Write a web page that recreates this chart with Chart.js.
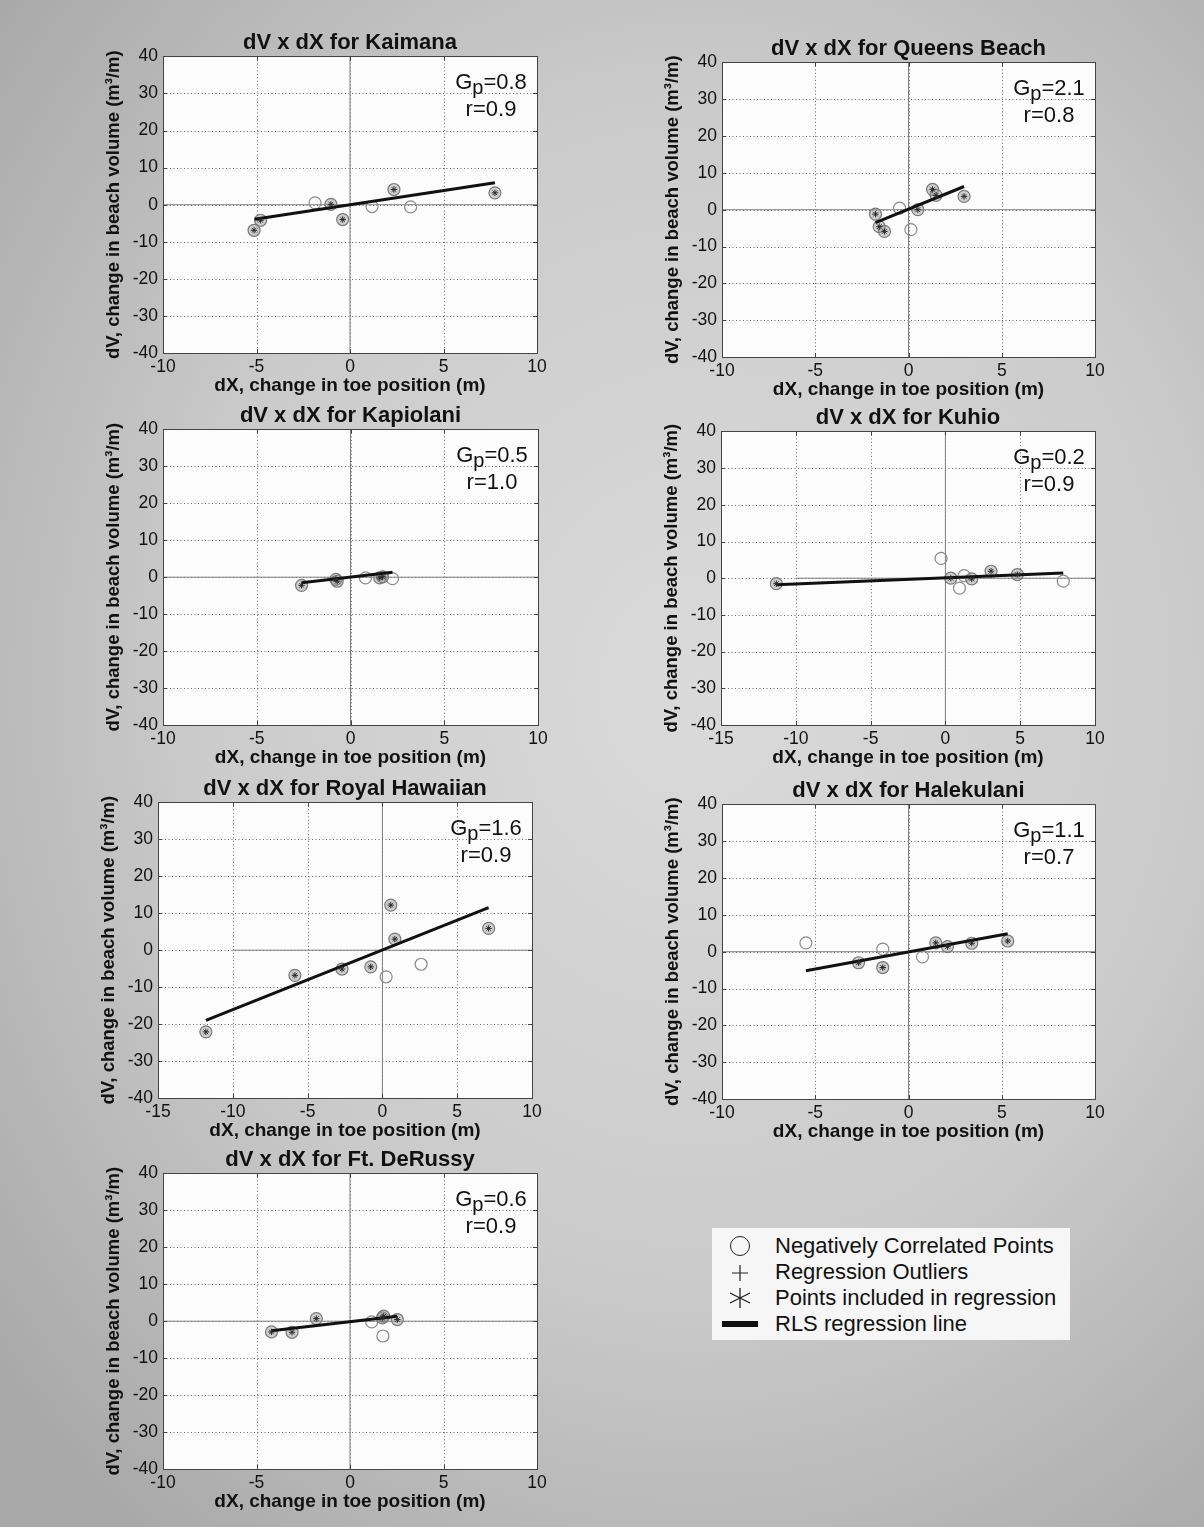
<!DOCTYPE html>
<html lang="en">
<head>
<meta charset="UTF-8">
<title>dV x dX for Waikiki beaches</title>
<script src="https://cdn.jsdelivr.net/npm/chart.js"></script>
<style>
  body {
    margin: 0;
    width: 1204px;
    height: 1527px;
    overflow: hidden;
    position: relative;
    font-family: "Liberation Sans", Arial, sans-serif;
    background: radial-gradient(ellipse 75% 70% at 58% 45%, #dadada 0%, #cbcbcb 55%, #a9a9a9 100%);
  }
  canvas { position: absolute; }
  .legend {
    position: absolute;
    left: 712px; top: 1228px;
    width: 358px; height: 112px;
    background: #f6f6f6;
    color: #111;
    font-size: 22px;
  }
  .row { position: absolute; left: 0; height: 26px; width: 100%; }
  .row .txt { position: absolute; left: 63px; top: 0px; line-height: 26px; }
  .sym { position: absolute; }
</style>
</head>
<body>

<!-- 凡例 -->
<div class="legend">
  <div class="row" style="top:5px">
    <span class="sym" style="left:18px;top:3px;width:18px;height:18px;border:1.3px solid #222;border-radius:50%"></span>
    <span class="txt">Negatively Correlated Points</span>
  </div>
  <div class="row" style="top:31px">
    <svg class="sym" style="left:18px;top:4px" width="20" height="20"><path d="M10 2V18M2 10H18" stroke="#222" stroke-width="1.2"/></svg>
    <span class="txt">Regression Outliers</span>
  </div>
  <div class="row" style="top:57px">
    <svg class="sym" style="left:16px;top:2px" width="24" height="22"><path d="M12 1V21M2 6L22 16M2 16L22 6" stroke="#222" stroke-width="1.3"/></svg>
    <span class="txt">Points included in regression</span>
  </div>
  <div class="row" style="top:83px">
    <span class="sym" style="left:10px;top:10px;width:36px;height:6px;background:#111"></span>
    <span class="txt">RLS regression line</span>
  </div>
</div>

<script>
    // ---- データ ----
    const siteNames = ['Kaimana', 'Queens Beach', 'Kapiolani', 'Kuhio', 'Royal Hawaiian', 'Halekulani', 'Ft. DeRussy'];
    const gpValues = ['0.8', '2.1', '0.5', '0.2', '1.6', '1.1', '0.6'];
    const rValues = ['0.9', '0.8', '1.0', '0.9', '0.9', '0.7', '0.9'];
    const xMins = [-10, -10, -10, -15, -15, -10, -10];
    const xMax = 10;
    const yMin = -40;
    const yMax = 40;

    // 0 の線
    const zeroLineX = [-10, 10];
    const zeroLineY = [-40, 40];

    // Kaimana
    const kaimanaNegX = [-1.87, 1.18, 3.24];
    const kaimanaNegY = [0.5, -0.5, -0.6];
    const kaimanaRegX = [-5.13, -4.78, -1.02, -0.39, 2.35, 7.75];
    const kaimanaRegY = [-6.9, -4.2, 0.1, -4.0, 4.1, 3.2];
    const kaimanaLineX = [-5.1, 7.75];
    const kaimanaLineY = [-3.9, 5.9];

    // Queens Beach
    const queensNegX = [-0.48, 0.13];
    const queensNegY = [0.45, -5.4];
    const queensRegX = [-1.77, -1.57, -1.29, 0.5, 1.29, 1.48, 2.98];
    const queensRegY = [-1.2, -4.6, -5.9, 0.0, 5.5, 3.9, 3.6];
    const queensLineX = [-1.77, 2.98];
    const queensLineY = [-3.5, 6.3];

    // Kapiolani
    const kapiolaniNegX = [0.8, 2.24];
    const kapiolaniNegY = [-0.2, -0.4];
    const kapiolaniRegX = [-2.61, -0.78, -0.71, 1.56, 1.71];
    const kapiolaniRegY = [-2.2, -0.6, -1.1, -0.2, 0.1];
    const kapiolaniLineX = [-2.61, 2.24];
    const kapiolaniLineY = [-1.5, 1.35];

    // Kuhio
    const kuhioNegX = [-0.29, 0.94, 1.25, 7.88];
    const kuhioNegY = [5.4, -2.7, 0.7, -0.8];
    const kuhioRegX = [-11.3, 0.36, 1.76, 3.05, 4.81];
    const kuhioRegY = [-1.5, 0.0, -0.2, 1.9, 1.0];
    const kuhioLineX = [-11.3, 7.88];
    const kuhioLineY = [-1.8, 1.45];

    // Royal Hawaiian
    const royalNegX = [0.25, 2.59];
    const royalNegY = [-7.2, -3.8];
    const royalRegX = [-11.8, -5.85, -2.7, -0.78, 0.56, 0.83, 7.1];
    const royalRegY = [-22.1, -6.8, -5.1, -4.5, 12.2, 3.0, 5.9];
    const royalLineX = [-11.8, 7.1];
    const royalLineY = [-19.0, 11.5];

    // Halekulani
    const halekulaniNegX = [-5.5, -1.38, 0.75];
    const halekulaniNegY = [2.4, 0.7, -1.4];
    const halekulaniRegX = [-2.68, -1.38, 1.46, 2.09, 3.39, 5.32];
    const halekulaniRegY = [-3.0, -4.3, 2.4, 1.4, 2.3, 2.9];
    const halekulaniLineX = [-5.5, 5.32];
    const halekulaniLineY = [-5.2, 4.9];

    // Ft. DeRussy
    const derussyNegX = [1.16, 1.76];
    const derussyNegY = [-0.2, -4.0];
    const derussyRegX = [-4.2, -3.1, -1.8, 1.73, 1.8, 2.53];
    const derussyRegY = [-2.9, -3.0, 0.7, 0.9, 1.35, 0.45];
    const derussyLineX = [-4.2, 2.53];
    const derussyLineY = [-2.6, 1.35];

    // ---- レイアウト（プロット領域の left, top, right, bottom） ----
    const panelBoxes = [
        [163, 56, 537, 353],
        [722, 62, 1095, 357],
        [163, 429, 538, 725],
        [721, 431, 1095, 725],
        [158, 802, 532, 1098],
        [722, 804, 1095, 1099],
        [163, 1173, 537, 1469]
    ];

    const seriesList = [
        [kaimanaNegX, kaimanaNegY, kaimanaRegX, kaimanaRegY, kaimanaLineX, kaimanaLineY],
        [queensNegX, queensNegY, queensRegX, queensRegY, queensLineX, queensLineY],
        [kapiolaniNegX, kapiolaniNegY, kapiolaniRegX, kapiolaniRegY, kapiolaniLineX, kapiolaniLineY],
        [kuhioNegX, kuhioNegY, kuhioRegX, kuhioRegY, kuhioLineX, kuhioLineY],
        [royalNegX, royalNegY, royalRegX, royalRegY, royalLineX, royalLineY],
        [halekulaniNegX, halekulaniNegY, halekulaniRegX, halekulaniRegY, halekulaniLineX, halekulaniLineY],
        [derussyNegX, derussyNegY, derussyRegX, derussyRegY, derussyLineX, derussyLineY]
    ];

    const FONT = '"Liberation Sans", Arial, Helvetica, sans-serif';
    const AXIS_W = 75;   // 左の軸の幅
    const AXIS_H = 48;   // 下の軸の高さ
    const TOP_GAP = 27;  // タイトル分
    const RIGHT_GAP = 15;

    function toPoints(xs, ys) {
        return xs.map((x, i) => ({ x: x, y: ys[i] }));
    }

    // プロット背景・点線グリッド・枠・内向きの目盛り・Gp/r の文字
    const framePlugin = {
        id: 'frame',
        beforeDraw(chart) {
            const a = chart.chartArea;
            const ctx = chart.ctx;
            ctx.save();
            ctx.fillStyle = '#fcfcfc';
            ctx.fillRect(a.left, a.top, a.right - a.left, a.bottom - a.top);
            ctx.restore();
        },
        beforeDatasetsDraw(chart) {
            const a = chart.chartArea;
            const ctx = chart.ctx;
            const xs = chart.scales.x;
            const ys = chart.scales.y;
            ctx.save();
            ctx.strokeStyle = '#666';
            ctx.lineWidth = 1;
            ctx.setLineDash([1, 2.5]);
            ctx.beginPath();
            xs.ticks.forEach(function(t) {
                const px = Math.round(xs.getPixelForValue(t.value)) + 0.5;
                ctx.moveTo(px, a.top);
                ctx.lineTo(px, a.bottom);
            });
            ys.ticks.forEach(function(t) {
                const py = Math.round(ys.getPixelForValue(t.value)) + 0.5;
                ctx.moveTo(a.left, py);
                ctx.lineTo(a.right, py);
            });
            ctx.stroke();
            ctx.restore();
        },
        afterDatasetsDraw(chart) {
            const a = chart.chartArea;
            const ctx = chart.ctx;
            const xs = chart.scales.x;
            const ys = chart.scales.y;
            const tl = 4;
            ctx.save();
            ctx.strokeStyle = '#444';
            ctx.lineWidth = 1;
            ctx.strokeRect(Math.round(a.left) + 0.5, Math.round(a.top) + 0.5,
                Math.round(a.right - a.left), Math.round(a.bottom - a.top));
            ctx.beginPath();
            xs.ticks.forEach(function(t) {
                const px = Math.round(xs.getPixelForValue(t.value)) + 0.5;
                ctx.moveTo(px, a.bottom); ctx.lineTo(px, a.bottom - tl);
                ctx.moveTo(px, a.top); ctx.lineTo(px, a.top + tl);
            });
            ys.ticks.forEach(function(t) {
                const py = Math.round(ys.getPixelForValue(t.value)) + 0.5;
                ctx.moveTo(a.left, py); ctx.lineTo(a.left + tl, py);
                ctx.moveTo(a.right, py); ctx.lineTo(a.right - tl, py);
            });
            ctx.stroke();
            ctx.restore();
        },
        afterDraw(chart, args, opts) {
            const a = chart.chartArea;
            const ctx = chart.ctx;
            const cx = a.right - 46;
            const big = '22px ' + FONT;
            const small = '20px ' + FONT;
            ctx.save();
            ctx.fillStyle = '#111';
            ctx.textBaseline = 'alphabetic';
            ctx.textAlign = 'left';
            ctx.font = big;
            const wG = ctx.measureText('G').width;
            const wRest = ctx.measureText('=' + opts.gp).width;
            ctx.font = small;
            const wp = ctx.measureText('p').width;
            let x = cx - (wG + wp + wRest) / 2;
            const y = a.top + 33;
            ctx.font = big;
            ctx.fillText('G', x, y);
            x += wG;
            ctx.font = small;
            ctx.fillText('p', x, y + 5);
            x += wp;
            ctx.font = big;
            ctx.fillText('=' + opts.gp, x, y);
            ctx.textAlign = 'center';
            ctx.fillText('r=' + opts.r, cx, a.top + 60);
            ctx.restore();
        }
    };

    panelBoxes.forEach(function(box, i) {
        const L = box[0], T = box[1], R = box[2], B = box[3];
        const s = seriesList[i];

        const canvas = document.createElement('canvas');
        const w = (R - L) + AXIS_W + RIGHT_GAP;
        const h = (B - T) + TOP_GAP + AXIS_H;
        canvas.width = w;
        canvas.height = h;
        canvas.style.width = w + 'px';
        canvas.style.height = h + 'px';
        canvas.style.left = (L - AXIS_W) + 'px';
        canvas.style.top = (T - TOP_GAP) + 'px';
        document.body.appendChild(canvas);

        new Chart(canvas.getContext('2d'), {
            type: 'scatter',
            data: {
                datasets: [
                    {
                        data: [{ x: zeroLineX[0], y: 0 }, { x: zeroLineX[1], y: 0 }],
                        showLine: true, borderColor: '#808080', borderWidth: 1, pointRadius: 0, order: 6
                    },
                    {
                        data: [{ x: 0, y: zeroLineY[0] }, { x: 0, y: zeroLineY[1] }],
                        showLine: true, borderColor: '#808080', borderWidth: 1, pointRadius: 0, order: 5
                    },
                    {
                        data: toPoints(s[0], s[1]),
                        pointStyle: 'circle', pointRadius: 6,
                        borderColor: '#8a8a8a', borderWidth: 1.2,
                        backgroundColor: 'rgba(0,0,0,0)', order: 3
                    },
                    {
                        data: toPoints(s[2], s[3]),
                        pointStyle: 'circle', pointRadius: 6,
                        borderColor: '#7a7a7a', borderWidth: 1.2,
                        backgroundColor: 'rgba(150,150,150,0.45)', order: 2
                    },
                    {
                        data: toPoints(s[4], s[5]),
                        showLine: true, borderColor: '#111', borderWidth: 3,
                        pointRadius: 0, order: 1
                    },
                    {
                        data: toPoints(s[2], s[3]),
                        pointStyle: 'star', pointRadius: 3.2,
                        borderColor: '#2a2a2a', borderWidth: 1, order: 0
                    }
                ]
            },
            options: {
                responsive: false,
                animation: false,
                events: [],
                layout: { padding: { left: 0, right: RIGHT_GAP, top: 0, bottom: 0 } },
                plugins: {
                    legend: { display: false },
                    tooltip: { enabled: false },
                    title: {
                        display: true,
                        fullSize: false,
                        text: 'dV x dX for ' + siteNames[i],
                        color: '#111',
                        font: { family: FONT, size: 22, weight: 'bold' },
                        padding: { top: 1, bottom: 0 }
                    },
                    frame: { gp: gpValues[i], r: rValues[i] }
                },
                scales: {
                    x: {
                        type: 'linear',
                        min: xMins[i], max: xMax,
                        afterFit: function(scale) { scale.height = AXIS_H; },
                        grid: { display: false, drawTicks: false },
                        border: { display: false },
                        ticks: {
                            stepSize: 5, autoSkip: false, maxRotation: 0, padding: 4,
                            color: '#111', font: { family: FONT, size: 17.5 }
                        },
                        title: {
                            display: true,
                            text: 'dX, change in toe position (m)',
                            color: '#111',
                            font: { family: FONT, size: 19, weight: 'bold' },
                            padding: { top: 0, bottom: 4 }
                        }
                    },
                    y: {
                        type: 'linear',
                        min: yMin, max: yMax,
                        afterFit: function(scale) { scale.width = AXIS_W; },
                        grid: { display: false, drawTicks: false },
                        border: { display: false },
                        ticks: {
                            stepSize: 10, autoSkip: false, padding: 5,
                            color: '#111', font: { family: FONT, size: 17.5 }
                        },
                        title: {
                            display: true,
                            text: 'dV, change in beach volume (m\u00B3/m)',
                            color: '#111',
                            font: { family: FONT, size: 18.5, weight: 'bold' },
                            padding: { top: 15, bottom: 0 }
                        }
                    }
                }
            },
            plugins: [framePlugin]
        });
    });
</script>
</body>
</html>
